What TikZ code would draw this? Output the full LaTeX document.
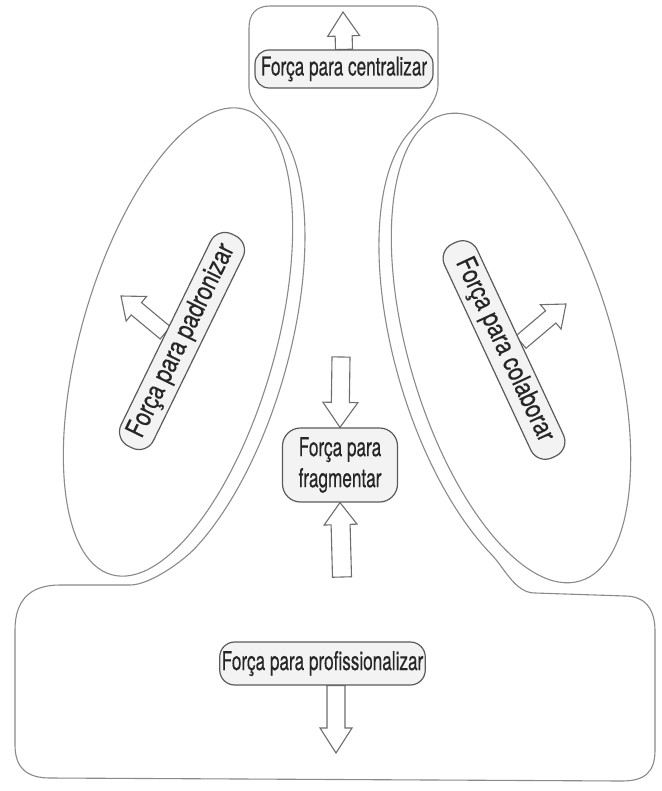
\documentclass[tikz,border=0pt]{standalone}
\usepackage{fontspec}
\setmainfont{TeX Gyre Heros}[FakeStretch=0.66, FakeBold=0.4]
\newfontfamily\rotfont{TeX Gyre Heros}[FakeStretch=0.8, FakeBold=0.4]
\usetikzlibrary{calc}
\pgfdeclarelayer{bg}
\pgfsetlayers{bg,main}
\definecolor{outl}{HTML}{8A8A8A}
\definecolor{labc}{HTML}{5A5A5A}
\definecolor{labf}{HTML}{F3F3F3}
\definecolor{txtc}{HTML}{262626}
\definecolor{arrc}{HTML}{6E6E6E}
\tikzset{
  outline/.style={draw=outl, line width=1.1pt, line join=round},
  lab/.style={draw=labc, fill=labf, line width=1.2pt, text=txtc, inner sep=2pt,
    font=\fontsize{26}{31}\selectfont, align=center},
  rotlab/.style={lab, font=\rotfont\fontsize{27}{31}\selectfont},
  barrow/.style={draw=arrc, fill=white, line width=1.1pt, line join=miter}
}
\newcommand\blockarrow[5]{%
  \path ($(#2)!#5!(#1)$) coordinate (ab);
  \draw[barrow] ($(#1)!#3!90:(#2)$) -- ($(ab)!#3!90:(#2)$) -- ($(ab)!#4!90:(#2)$) -- (#2)
    -- ($(ab)!#4!-90:(#2)$) -- ($(ab)!#3!-90:(#2)$) -- ($(#1)!#3!-90:(#2)$) -- cycle;}
\begin{document}
\begin{tikzpicture}[x=1pt,y=-1pt]
\useasboundingbox (0,0) rectangle (661,791);

% label nodes (drawn on the main layer, above everything else)
\node[lab, minimum width=178pt, minimum height=38pt, rounded corners=14pt] (tc) at (344,69) {Força para centralizar};
\node[lab, minimum width=115pt, minimum height=74pt, rounded corners=18pt] (fr) at (340,465) {Força para\\fragmentar};
\node[lab, minimum width=205pt, minimum height=43pt, rounded corners=15pt] (pr) at (322.5,663.5) {Força para profissionalizar};
\node[rotlab, rotate=64, minimum width=236pt, minimum height=36pt, rounded corners=16pt] (lp) at (182,341) {Força para padronizar};
\node[rotlab, rotate=-65, minimum width=236pt, minimum height=36pt, rounded corners=16pt] (rc) at (504,350) {Força para colaborar};

% arrow end points
\coordinate (tcTip) at (343,12);
\coordinate (lpTip) at (121,296);
\coordinate (rcTip) at (566,304);
\coordinate (frTopTail) at (341,357);
\coordinate (frBotTail) at (342,577);
\coordinate (prTail) at ($(pr.south)+(13.5,0)$);
\coordinate (prTip) at (336,753);

\begin{pgfonlayer}{bg}
\fill[white] (0,0) rectangle (661,791);

% outer contour: top box, outer rims of both ellipses, bottom box
\draw[outline] (249,88) -- (249,28) .. controls (249,14) and (256,6) .. (270,6)
  -- (416,6) .. controls (430,6) and (438,14) .. (438,28) -- (438,85)
  .. controls (438,102) and (417.5,123.3) .. (409.5,132.2)
  -- plot[domain=-255:-130, samples=60, variable=\s]
     ({504+103.6*cos(\s)-70.1*sin(\s)}, {353-30.7*cos(\s)-236.8*sin(\s)})
  .. controls (505,568.5) and (515,593) .. (535,593)
  -- (625,596) .. controls (645,596) and (655,609) .. (655,631)
  -- (655,750) .. controls (655,772) and (645,781) .. (622,781)
  -- (50,778) .. controls (27,778) and (15,768) .. (15,745)
  -- (15,630) .. controls (15,600) and (30,585) .. (60,585)
  -- (130,585) .. controls (150,585) and (183.2,561.2) .. (196.7,546.5)
  -- plot[domain=-50:75, samples=60, variable=\s]
     ({185+99*cos(\s)+67.8*sin(\s)}, {347+28.4*cos(\s)-236.5*sin(\s)})
  .. controls (268.2,117) and (249,102) .. (249,88) -- cycle;

% inner ellipses
\draw[outline, rotate around={-16:(178,342)}] (178,342) ellipse [x radius=97pt, y radius=242pt];
\draw[outline, rotate around={16.5:(511,348)}] (511,348) ellipse [x radius=102pt, y radius=243pt];

% block arrows
\blockarrow{tc.north}{tcTip}{8.5pt}{16pt}{24pt}
\blockarrow{lp.north}{lpTip}{8pt}{16pt}{20pt}
\blockarrow{rc.north}{rcTip}{8pt}{16pt}{20pt}
\blockarrow{frTopTail}{fr.north}{9pt}{17.5pt}{25pt}
\blockarrow{frBotTail}{fr.south}{9.5pt}{16.5pt}{22pt}
\blockarrow{prTail}{prTip}{9pt}{16pt}{25pt}
\end{pgfonlayer}
\end{tikzpicture}
\end{document}
